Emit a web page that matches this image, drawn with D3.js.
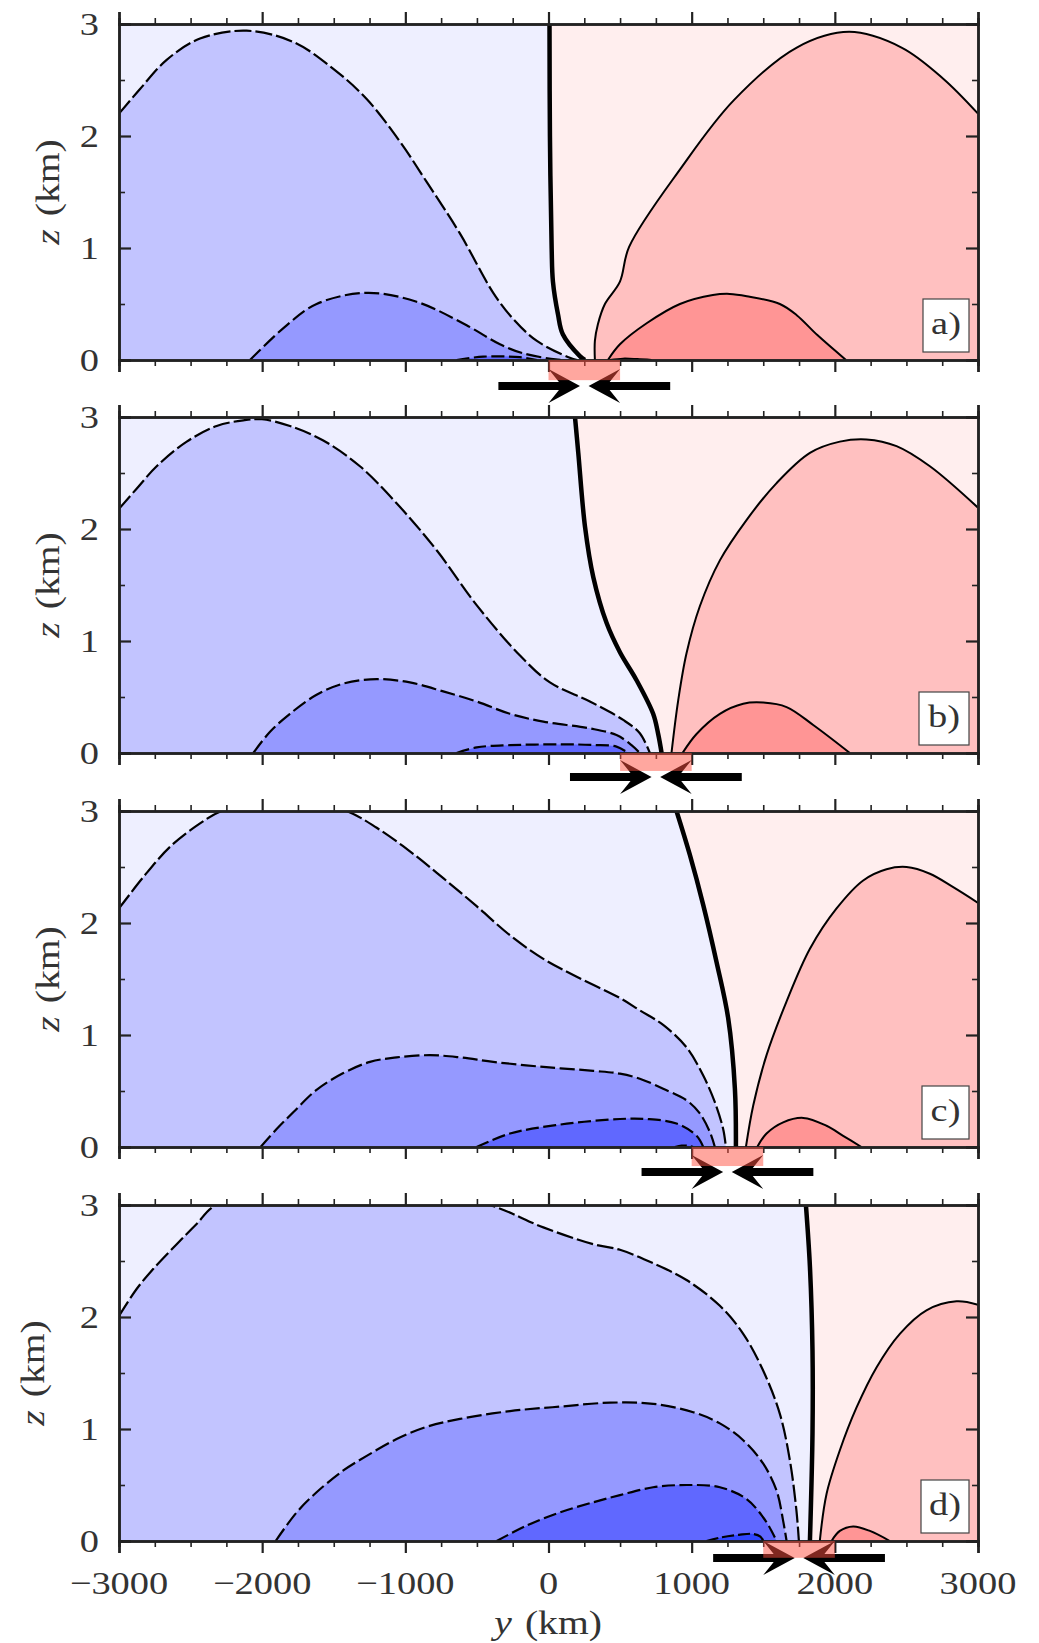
<!DOCTYPE html>
<html><head><meta charset="utf-8">
<script src="https://cdn.jsdelivr.net/npm/d3@7/dist/d3.min.js"></script>
<style>html,body{margin:0;padding:0;background:#fff}svg{display:block}</style>
</head><body><svg id="c" width="1039" height="1643"></svg>
<script>
const panelNames=["a)","b)","c)","d)"];
const yMajor=[0,1,2,3], yMinor=[0.5,1.5,2.5];
const xMajor=[-3000,-2000,-1000,0,1000,2000,3000];
const xMinor=d3.range(-3000,3001,250).filter(v=>v%1000!==0);
const xTickLabels=["\u22123000","\u22122000","\u22121000","0","1000","2000","3000"];
const yTickLabels=["0","1","2","3"];
const forcingCentre=[250,750,1250,1750];
const forcingBottom=[-0.18,-0.16,-0.17,-0.15];
const arrowLevel=[-0.232,-0.214,-0.223,-0.152];

const thick_a=[[7,3],[10,2],[22,1],[31,.7],[66,.41],[100,.23],[219,.035],[254,0]];
const blue1_a=[[-3000,2.2],[-2853,2.42],[-2667,2.68],[-2434,2.87],[-2108,2.94],[-1783,2.84],[-1503,2.6],[-1270,2.33],[-1038,1.95],[-851,1.59],[-619,1.13],[-386,.6],[-249,.37],[-81,.17],[149,.02],[200,0]];
const blue2_a=[[-2085,0],[-1829,.31],[-1620,.5],[-1270,.6],[-921,.52],[-572,.31],[-339,.14],[-179,.06],[50,.005],[100,0]];
const blue3_a=[[-642,0],[-456,.03],[-200,.025],[-80,0]];
const red1_a=[[324,0],[324,.17],[345,.32],[394,.5],[499,.7],[563,1.01],[929,1.72],[1295,2.32],[1734,2.79],[2100,2.93],[2466,2.79],[2759,2.51],[3000,2.2]];
const red2_a=[[415,0],[499,.14],[688,.33],[918,.5],[1148,.58],[1266,.59],[1385,.57],[1616,.5],[1734,.4],[1880,.22],[2078,0]];
const red3_a=[[430,0],[520,.012],[620,.008],[720,0]];

const thick_b=[[185,3],[208,2.68],[255,2.02],[313,1.57],[406,1.16],[499,.9],[615,.65],[731,.35],[766,.17],[790,0]];
const blue1_b=[[-3000,2.18],[-2877,2.36],[-2737,2.56],[-2527,2.78],[-2318,2.92],[-2132,2.97],[-2001,2.98],[-1806,2.92],[-1573,2.79],[-1317,2.56],[-1061,2.23],[-781,1.81],[-502,1.32],[-199,.87],[10,.63],[289,.46],[522,.295],[638,.176],[708,0]];
const blue2_b=[[-2062,0],[-1945,.19],[-1806,.35],[-1620,.52],[-1433,.62],[-1200,.66],[-968,.63],[-735,.55],[-502,.46],[-269,.35],[-36,.28],[289,.22],[475,.16],[580,.07],[638,0]];
const blue3_b=[[-642,0],[-502,.05],[-269,.07],[80,.077],[312,.072],[475,.057],[557,0]];
const red1_b=[[859,0],[906,.47],[964,.89],[1057,1.31],[1197,1.72],[1383,2.08],[1593,2.41],[1826,2.68],[2035,2.78],[2221,2.8],[2431,2.74],[2664,2.56],[3000,2.19]];
const red2_b=[[936,0],[1034,.17],[1197,.35],[1360,.44],[1500,.45],[1663,.41],[1849,.25],[2105,0]];

const thick_c=[[894,3],[987,2.61],[1081,2.16],[1174,1.65],[1255,1.15],[1302,.52],[1309,0]];
const blue1_c=[[-3000,2.13],[-2830,2.41],[-2644,2.68],[-2434,2.89],[-2283,3],[-1850,3.15],[-1410,3],[-1200,2.85],[-968,2.64],[-735,2.4],[-502,2.15],[-269,1.89],[-36,1.68],[197,1.52],[499,1.33],[638,1.22],[801,1.09],[964,.89],[1080,.64],[1162,.4],[1220,.16],[1239,0]];
const blue2_c=[[-2011,0],[-1899,.16],[-1783,.31],[-1620,.51],[-1433,.66],[-1247,.76],[-1061,.8],[-828,.82],[-618,.8],[-386,.76],[-36,.715],[313,.68],[499,.655],[638,.61],[801,.52],[964,.417],[1057,.3],[1127,.134],[1162,0]];
const blue3_c=[[-502,.0],[-269,.12],[80,.2],[499,.25],[685,.25],[894,.21],[1034,.1],[1081,0]];
const blue4_c=[[883,0],[930,.012],[970,.012],[1010,0]];
const red1_c=[[1379,0],[1430,.37],[1523,.82],[1663,1.3],[1826,1.77],[2012,2.13],[2198,2.38],[2361,2.48],[2501,2.5],[2664,2.44],[2827,2.32],[3000,2.18]];
const red2_c=[[1458,0],[1523,.12],[1639,.22],[1779,.26],[1942,.19],[2058,.1],[2186,0]];

const thick_d=[[1798,3],[1826,2.45],[1844,1.7],[1844,.96],[1826,0]];
const blue1_d=[[-3000,2.01],[-2877,2.25],[-2760,2.43],[-2597,2.65],[-2458,2.83],[-2323,3],[-1400,3.3],[-409,3],[-36,2.8],[313,2.65],[499,2.6],[731,2.48],[964,2.33],[1197,2.1],[1360,1.85],[1500,1.52],[1616,1.135],[1686,.72],[1732,.27],[1749,0]];
const blue2_d=[[-1906,0],[-1759,.256],[-1620,.435],[-1433,.63],[-1270,.76],[-1061,.91],[-851,1.02],[-618,1.09],[-269,1.16],[80,1.2],[429,1.235],[731,1.225],[1011,1.15],[1197,1.05],[1360,.9],[1500,.69],[1593,.45],[1639,.18],[1663,0]];
const blue3_d=[[-362,0],[-153,.137],[80,.256],[313,.346],[499,.41],[731,.48],[964,.5],[1197,.48],[1383,.375],[1500,.21],[1558,.09],[1593,0]];
const blue4_d=[[1104,0],[1197,.03],[1330,.055],[1430,.063],[1480,.04],[1500,0]];
const red1_d=[[1895,0],[1942,.42],[2035,.81],[2151,1.19],[2291,1.55],[2454,1.85],[2640,2.06],[2850,2.14],[3000,2.11]];
const red2_d=[[1977,0],[2035,.09],[2128,.13],[2245,.09],[2384,0]];

const thick=[thick_a,thick_b,thick_c,thick_d];
const blues=[[blue1_a,blue2_a,blue3_a],[blue1_b,blue2_b,blue3_b],[blue1_c,blue2_c,blue3_c,blue4_c],[blue1_d,blue2_d,blue3_d,blue4_d]];
const reds=[[red1_a,red2_a,red3_a],[red1_b,red2_b],[red1_c,red2_c],[red1_d,red2_d]];
const blueFill=["#c2c4ff","#9599ff","#6068ff","#3046ff"];
const redFill=["#ffc0c0","#ff9595","#ff6a6a"];
const dashes=["17 4","15 4.5","13 4.5","12 4"];

const W=859, H=336, L=119, tops=[24,417,811,1205];
const labelX=[59,59,59,44], boxW=[46,50,47,48];
const svg=d3.select("#c");
const x=d3.scaleLinear().domain([-3000,3000]).range([L,L+W]);
const defs=svg.append("defs");
const FONT="'Liberation Serif',serif", INK="#333";

function label(g,px,py,parts,opt={}){
  const size=opt.size||32, sx=opt.sx||1.2;
  const t=g.append("text").attr("transform",`translate(${px},${py}) ${opt.rot?"rotate(-90) ":""}scale(${sx},1)`)
    .attr("text-anchor",opt.anchor||"middle").attr("font-family",FONT).attr("font-size",size).attr("fill",INK);
  parts.forEach((p,i)=>t.append("tspan").attr("font-style",p.it?"italic":"normal").attr("dx",i?11:0).text(p.s));
}

tops.forEach((top,i)=>{
  const y=d3.scaleLinear().domain([0,3]).range([top+H,top]);
  const line=d3.line().x(d=>x(d[0])).y(d=>y(d[1])).curve(d3.curveCatmullRom.alpha(.5));
  const g=svg.append("g");
  const id="clip"+i;
  defs.append("clipPath").attr("id",id).append("rect").attr("x",x(-3000)).attr("y",y(3)).attr("width",W).attr("height",H);
  const plot=g.append("g").attr("clip-path",`url(#${id})`);
  plot.append("rect").attr("x",x(-3000)).attr("y",y(3)).attr("width",W).attr("height",H).attr("fill","#ffeeee");
  const th=thick[i];
  plot.append("path").attr("fill","#eeefff")
    .attr("d",line(th)+`L${x(-3000)},${y(0)}L${x(-3000)},${y(3)}Z`);
  const closed=c=>line(c)+`L${x(c[c.length-1][0])},${y(0)}L${x(c[0][0])},${y(0)}Z`;
  blues[i].forEach((c,k)=>plot.append("path").attr("d",closed(c)).attr("fill",blueFill[k]));
  reds[i].forEach((c,k)=>plot.append("path").attr("d",closed(c)).attr("fill",redFill[k]));
  blues[i].forEach((c,k)=>plot.append("path").attr("d",line(c)).attr("fill","none").attr("stroke","#000").attr("stroke-width",2.2).attr("stroke-dasharray",dashes[k]));
  reds[i].forEach(c=>plot.append("path").attr("d",line(c)).attr("fill","none").attr("stroke","#000").attr("stroke-width",2));
  plot.append("path").attr("d",line(th)).attr("fill","none").attr("stroke","#000").attr("stroke-width",4.5);

  const style=(sel,w)=>{sel.selectAll("line").attr("stroke","#222").attr("stroke-width",w);sel.selectAll("path.domain").attr("stroke","#222").attr("stroke-width",2.5);sel.selectAll("text").remove();};
  const ax=[
    [d3.axisBottom(x),xMajor,xMinor,12,6,0,y(0)],
    [d3.axisTop(x),xMajor,xMinor,12,6,0,y(3)],
    [d3.axisLeft(y),yMajor,yMinor,-12,-6,L,0],
    [d3.axisRight(y),yMajor,yMinor,-12,-6,L+W,0]
  ];
  ax.forEach(([a,maj,min,ms,ns,tx,ty])=>{
    const base=()=>a.tickFormat("").tickSizeOuter(0);
    style(g.append("g").attr("transform",`translate(${tx},${ty})`).call(base().tickValues(min).tickSize(ns)),1.6);
    style(g.append("g").attr("transform",`translate(${tx},${ty})`).call(base().tickValues(maj).tickSize(ms)),2.2);
  });

  // forcing: arrows then translucent strip
  const c=forcingCentre[i], zc=arrowLevel[i];
  const bar=4/112, head=17/112;
  const arrowLine=d3.line().x(d=>x(d[0])).y(d=>y(d[1]));
  [-1,1].forEach(s=>{
    const pts=[[c+s*600,zc+bar],[c+s*177,zc+bar],[c+s*250,zc+head],[c+s*30,zc],[c+s*250,zc-head],[c+s*177,zc-bar],[c+s*600,zc-bar]];
    g.append("path").attr("d",arrowLine(pts)+"Z").attr("fill","#000");
  });
  g.append("rect").attr("x",x(c-250)).attr("width",x(c+250)-x(c-250)).attr("y",y(0)).attr("height",y(forcingBottom[i])-y(0))
    .attr("fill","#ff5040").attr("fill-opacity",.5);

  // panel label box
  const bh=53, bw=boxW[i], bx=L+W-9-bw, by=y(0)-8-bh;
  g.append("rect").attr("x",bx).attr("y",by).attr("width",bw).attr("height",bh).attr("fill","#fff").attr("stroke","#444").attr("stroke-width",1.2);
  label(g,bx+bw/2,by+bh-18,[{s:panelNames[i]}]);

  // tick labels
  yMajor.forEach((v,k)=>label(g,99,y(v)+11,[{s:yTickLabels[k]}],{anchor:"end"}));
  label(g,labelX[i],top+H/2,[{s:"z",it:true},{s:"(km)"}],{rot:true,size:33,sx:1.2});
  if(i===3){
    xMajor.forEach((v,k)=>label(g,x(v),1594,[{s:xTickLabels[k]}]));
    label(g,548,1634,[{s:"y",it:true},{s:"(km)"}],{size:33,sx:1.2});
  }
});
</script></body></html>
